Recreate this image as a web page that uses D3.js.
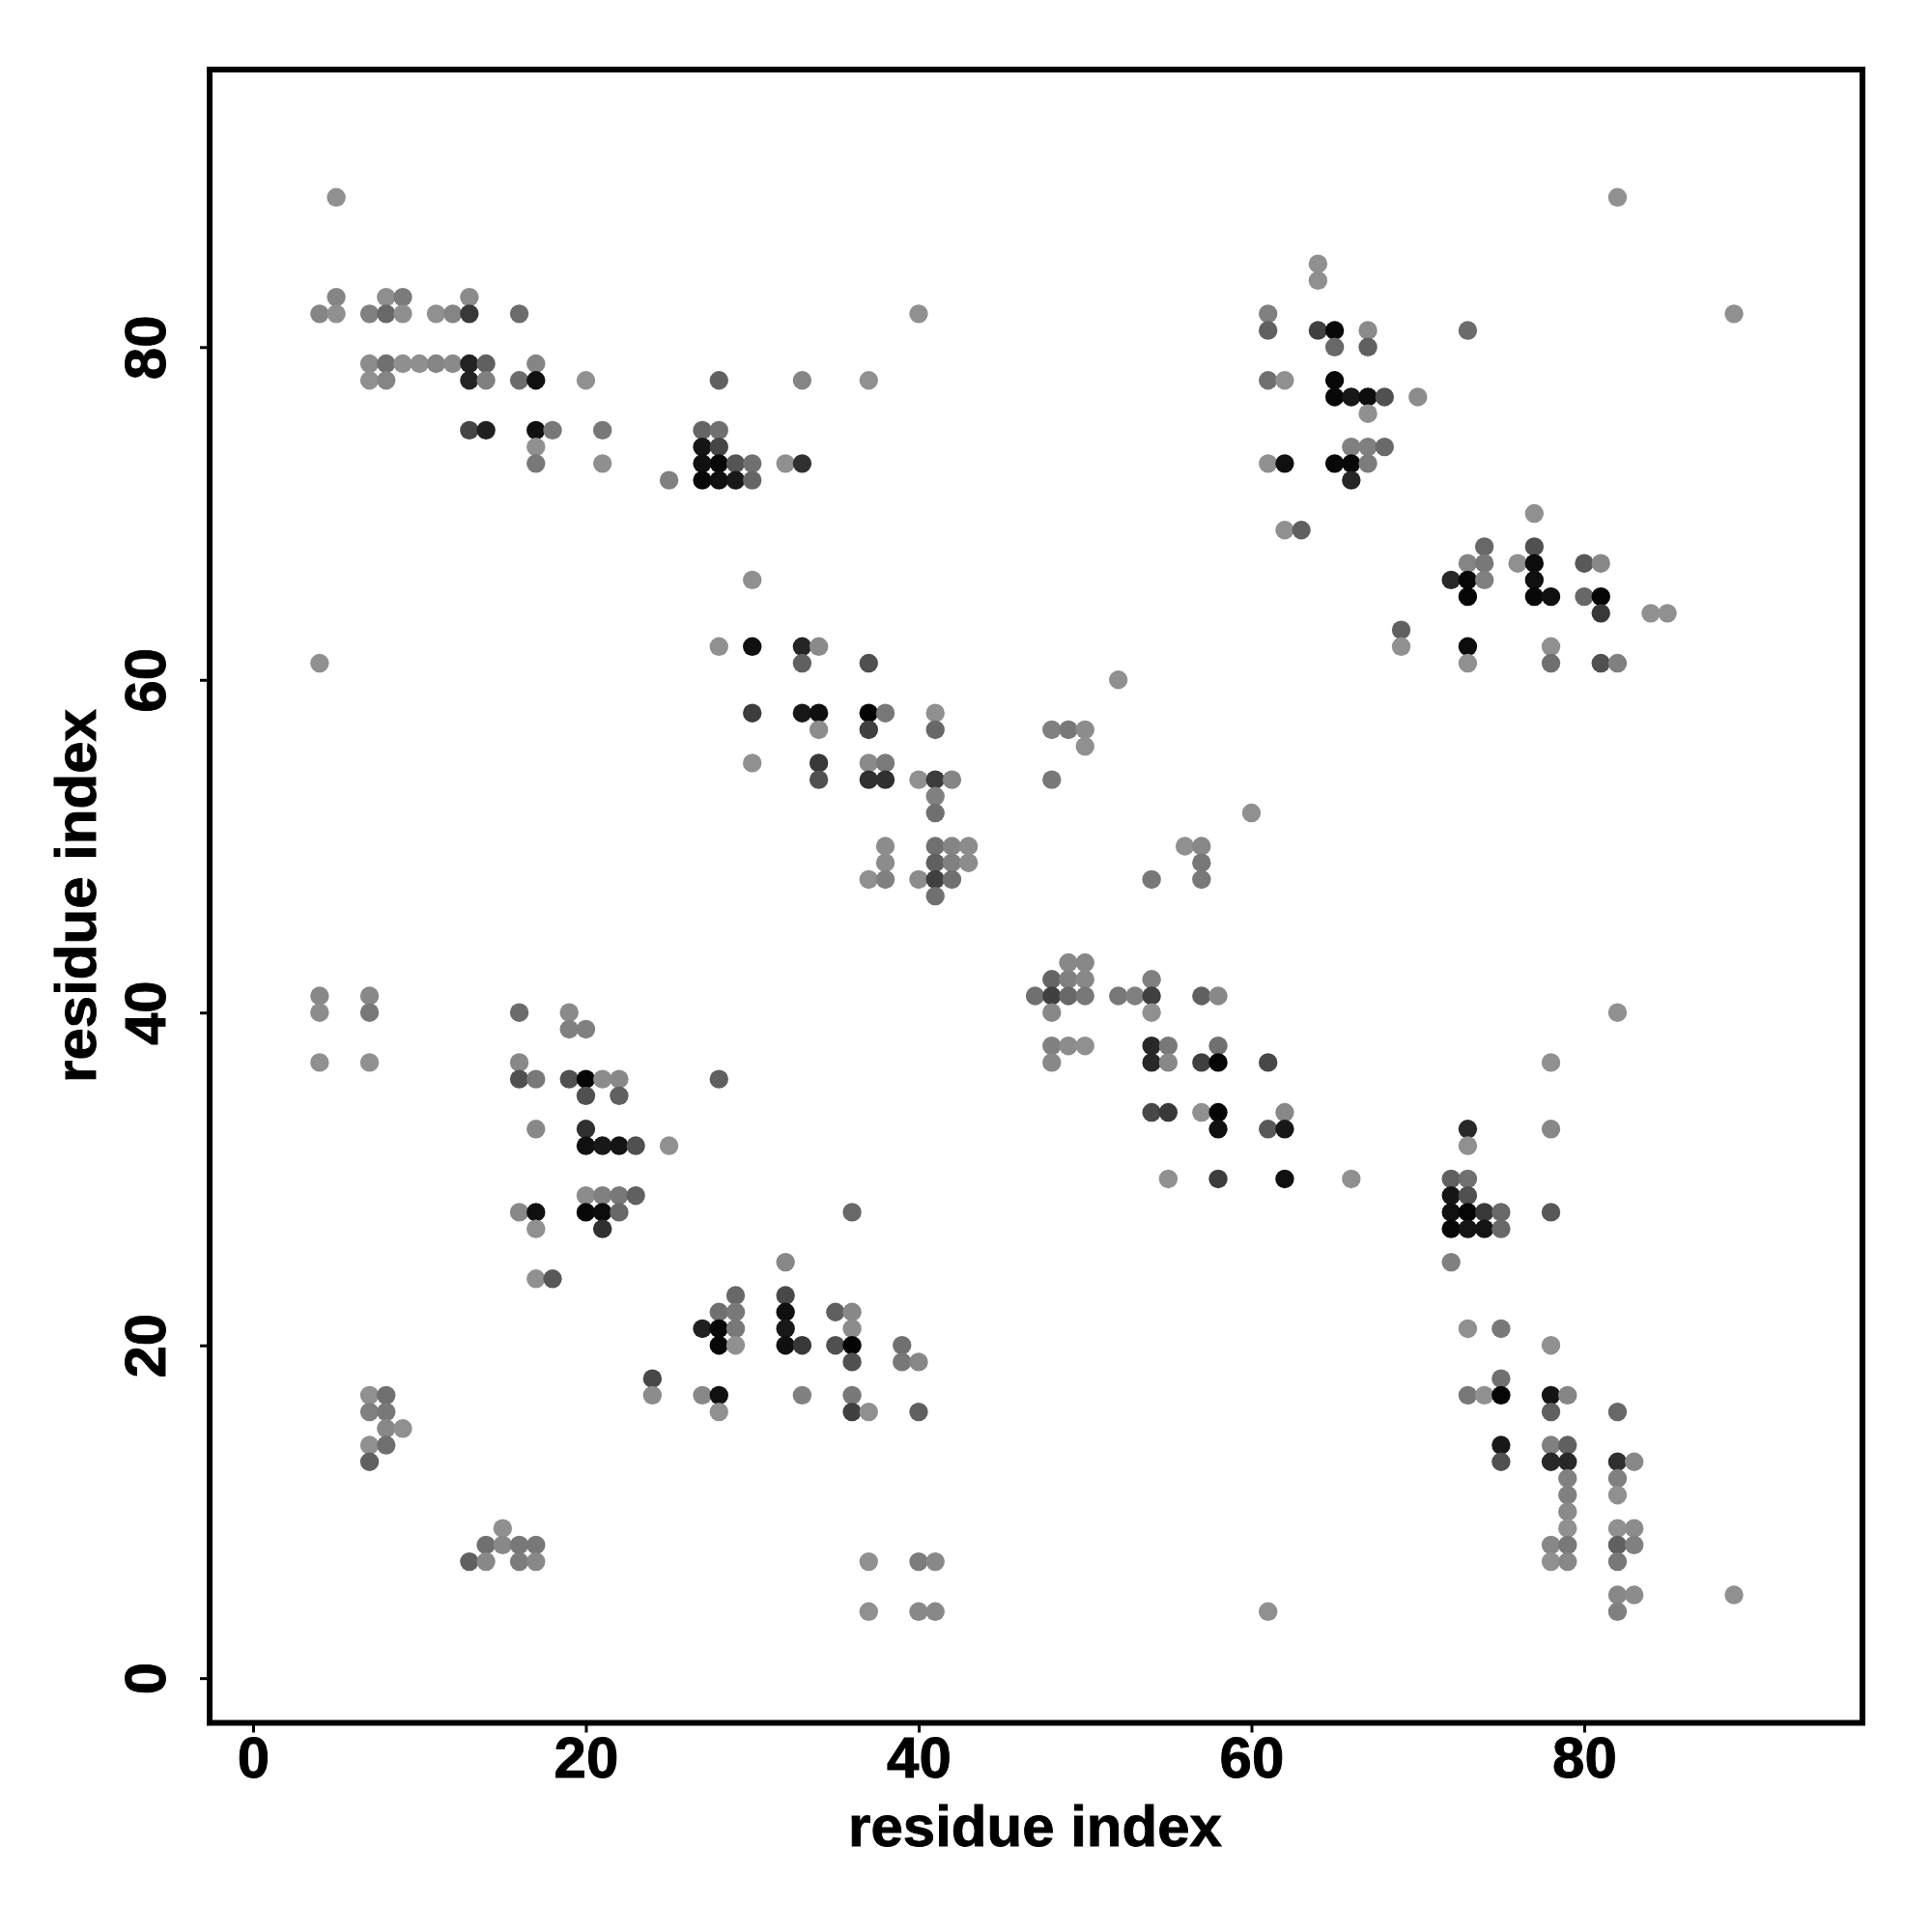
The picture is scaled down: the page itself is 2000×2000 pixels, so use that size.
<!DOCTYPE html>
<html><head><meta charset="utf-8">
<script src="https://cdnjs.cloudflare.com/ajax/libs/d3/7.8.5/d3.min.js"></script>
<style>html,body{margin:0;padding:0;background:#fff}svg{display:block}</style>
</head><body><svg id="c" width="2000" height="2000"></svg>
<script>
// Parallel arrays, one line per row of the picture (same residue-y)
const residueX = [
5,
8,9,13,5,
4,5,7,8,9,11,12,13,16,40,
7,8,9,10,11,12,13,14,17,
7,8,13,14,16,17,20,28,33,37,
13,14,17,18,21,27,28,
17,27,28,
17,21,27,28,29,30,32,33,
25,27,28,29,30,
30,
28,30,33,34,
4,33,37,
30,33,34,37,38,41,
34,37,41,
30,34,37,38,
34,37,38,40,41,42,
41,41,
38,41,42,43,
38,41,42,43,
37,38,40,41,42,
41,
82,64,64,
61,89,
61,64,65,67,73,
65,67,
61,62,65,
65,66,67,68,70,
67,
66,67,68,
61,62,65,66,67,
66,
77,
62,63,
74,77,
73,74,76,77,80,81,
72,73,74,77,
73,77,78,80,81,
81,84,85,
69,
69,73,78,
73,78,81,82,
52,
48,49,50,
50,
48,
60,
56,57,57,54,57,
4,7,
4,7,16,19,
19,20,
4,7,16,
16,17,19,20,21,22,28,
20,22,
17,20,
20,21,22,23,25,
20,21,22,23,
16,17,20,21,22,36,
17,21,
32,
17,18,
29,32,
28,29,32,35,36,
27,28,29,32,36,
28,29,32,33,35,36,39,
36,39,40,
24,
7,8,24,27,28,33,36,
7,8,28,36,37,40,
8,9,
7,8,
7,
15,
14,15,16,17,
13,14,16,17,37,40,41,
37,40,41,
49,50,
48,49,50,54,
47,48,49,50,52,53,54,57,58,
48,54,82,
48,49,50,54,55,58,
48,54,55,57,58,61,78,
54,55,57,58,62,
58,61,62,73,78,
73,
55,58,62,66,72,73,
72,73,
72,73,74,75,78,
72,73,74,75,
72,
73,75,
78,
75,
73,74,75,78,79,
78,82,
75,78,79,
75,78,79,82,83,
79,82,
79,82,
79,
79,82,83,
78,79,82,83,
78,79,82,
82,83,89,
61,82
];
const residueY = [
89,
83,83,83,83,
82,82,82,82,82,82,82,82,82,82,
79,79,79,79,79,79,79,79,79,
78,78,78,78,78,78,78,78,78,78,
75,75,75,75,75,75,75,
74,74,74,
73,73,73,73,73,73,73,73,
72,72,72,72,72,
66,
62,62,62,62,
61,61,61,
58,58,58,58,58,58,
57,57,57,
55,55,55,55,
54,54,54,54,54,54,
53,52,
50,50,50,50,
49,49,49,49,
48,48,48,48,48,
47,
89,85,84,
82,82,
81,81,81,81,81,
80,80,
78,78,78,
77,77,77,77,77,
76,
74,74,74,
73,73,73,73,73,
72,
70,
69,69,
68,68,
67,67,67,67,67,67,
66,66,66,66,
65,65,65,65,65,
64,64,64,
63,
62,62,62,
61,61,61,61,
60,
57,57,57,
56,
54,
52,
50,50,49,48,48,
41,41,
40,40,40,40,
39,39,
37,37,37,
36,36,36,36,36,36,36,
35,35,
33,33,
32,32,32,32,32,
29,29,29,29,
28,28,28,28,28,28,
27,27,
25,
24,24,
23,23,
22,22,22,22,22,
21,21,21,21,21,
20,20,20,20,20,20,20,
19,19,19,
18,
17,17,17,17,17,17,17,
16,16,16,16,16,16,
15,15,
14,14,
13,
9,
8,8,8,8,
7,7,7,7,7,7,7,
4,4,4,
43,43,
42,42,42,42,
41,41,41,41,41,41,41,41,41,
40,40,40,
38,38,38,38,38,38,
37,37,37,37,37,37,37,
34,34,34,34,34,
33,33,33,33,33,
32,
30,30,30,30,30,30,
29,29,
28,28,28,28,28,
27,27,27,27,
25,
21,21,
20,
18,
17,17,17,17,17,
16,16,
14,14,14,
13,13,13,13,13,
12,12,
11,11,
10,
9,9,9,
8,8,8,8,
7,7,7,
5,5,5,
4,4
];
// grey level of each dot (0 = black, 144 = lightest)
const shade = [
0x90,
0x8f,0x7a,0x8c,0x85,
0x85,0x90,0x80,0x68,0x8f,0x90,0x85,0x38,0x6c,0x90,
0x8c,0x70,0x8f,0x8f,0x85,0x8a,0x22,0x60,0x85,
0x90,0x85,0x25,0x80,0x6c,0x10,0x90,0x60,0x85,0x90,
0x45,0x20,0x10,0x78,0x78,0x65,0x70,
0x90,0x15,0x45,
0x78,0x8f,0x10,0x08,0x55,0x70,0x90,0x30,
0x80,0x08,0x10,0x18,0x65,
0x90,
0x90,0x10,0x25,0x8a,
0x90,0x60,0x50,
0x3c,0x18,0x10,0x05,0x78,0x90,
0x8c,0x40,0x68,
0x90,0x38,0x8a,0x7a,
0x50,0x30,0x30,0x90,0x3c,0x85,
0x80,0x70,
0x8c,0x70,0x85,0x8c,
0x8c,0x60,0x80,0x8c,
0x90,0x80,0x8c,0x40,0x70,
0x70,
0x90,0x90,0x90,
0x80,0x90,
0x60,0x40,0x08,0x8a,0x6c,
0x68,0x60,
0x70,0x90,0x08,
0x08,0x18,0x0c,0x50,0x8c,
0x90,
0x80,0x80,0x6a,
0x90,0x10,0x08,0x08,0x7c,
0x25,
0x90,
0x90,0x60,
0x68,0x50,
0x85,0x78,0x90,0x0c,0x58,0x88,
0x28,0x08,0x80,0x10,
0x05,0x08,0x10,0x68,0x05,
0x38,0x90,0x90,
0x60,
0x90,0x0c,0x90,
0x90,0x70,0x50,0x80,
0x90,
0x80,0x78,0x8c,
0x90,
0x78,
0x90,
0x90,0x88,0x78,0x78,0x78,
0x88,0x88,
0x8c,0x78,0x6c,0x8a,
0x80,0x80,
0x90,0x90,0x88,
0x50,0x78,0x50,0x05,0x8c,0x88,0x60,
0x50,0x60,
0x88,0x30,
0x10,0x18,0x14,0x50,0x90,
0x8c,0x80,0x78,0x60,
0x88,0x10,0x08,0x0c,0x68,0x68,
0x90,0x30,
0x88,
0x90,0x58,
0x68,0x48,
0x70,0x78,0x10,0x60,0x88,
0x20,0x08,0x78,0x18,0x8c,
0x08,0x90,0x10,0x38,0x50,0x05,0x70,
0x50,0x78,0x88,
0x48,
0x90,0x70,0x8c,0x88,0x10,0x80,0x78,
0x80,0x78,0x90,0x40,0x90,0x60,
0x88,0x90,
0x90,0x70,
0x60,
0x90,
0x70,0x88,0x78,0x78,
0x60,0x88,0x7c,0x88,0x90,0x7c,0x88,
0x90,0x88,0x88,
0x88,0x88,
0x65,0x80,0x88,0x80,
0x70,0x40,0x68,0x78,0x78,0x80,0x40,0x60,0x88,
0x88,0x90,0x90,
0x80,0x8c,0x90,0x28,0x78,0x70,
0x88,0x28,0x88,0x40,0x05,0x48,0x90,
0x48,0x38,0x90,0x05,0x88,
0x10,0x58,0x18,0x28,0x88,
0x90,
0x90,0x3c,0x10,0x90,0x60,0x70,
0x15,0x50,
0x10,0x05,0x38,0x68,0x58,
0x08,0x14,0x14,0x68,
0x80,
0x90,0x78,
0x90,
0x70,
0x78,0x90,0x05,0x14,0x85,
0x60,0x68,
0x18,0x80,0x60,
0x50,0x28,0x28,0x30,0x88,
0x80,0x80,
0x80,0x90,
0x8a,
0x90,0x90,0x8c,
0x88,0x78,0x60,0x80,
0x90,0x88,0x78,
0x88,0x8c,0x90,
0x90,0x80
];
const xTickValues = [0,20,40,60,80];
const yTickValues = [0,20,40,60,80];
const xTitle = "residue index";
const yTitle = "residue index";

const frame = {l:217, r:1928, t:72, b:1783.5};
const x = d3.scaleLinear().domain([-2.61,96.72]).range([frame.l, frame.r]);
const y = d3.scaleLinear().domain([-2.69,96.68]).range([frame.b, frame.t]);
const svg = d3.select("#c");
const font = "'Liberation Sans', Arial, sans-serif";

svg.append("g").selectAll("circle")
  .data(residueX.map((v,i)=>({x:v,y:residueY[i],g:shade[i]})))
  .join("circle")
  .attr("cx",d=>x(d.x)).attr("cy",d=>y(d.y)).attr("r",9.7)
  .attr("fill",d=>d3.rgb(d.g,d.g,d.g).formatHex());

const ax = svg.append("g").attr("transform",`translate(0,${frame.b})`)
  .call(d3.axisBottom(x).tickValues(xTickValues).tickSize(10).tickPadding(8).tickFormat(d3.format("d")));
const ay = svg.append("g").attr("transform",`translate(${frame.l},0)`)
  .call(d3.axisLeft(y).tickValues(yTickValues).tickSize(10).tickPadding(0).tickFormat(d3.format("d")));
[ax,ay].forEach(a=>{
  a.select(".domain").remove();
  a.selectAll(".tick line").attr("stroke","#000").attr("stroke-width",3);
  a.selectAll("text").attr("font-family",font).attr("font-weight","bold").attr("font-size",60)
    .attr("fill","#000").attr("stroke","#000").attr("stroke-width",0.9);
});
ax.selectAll("text").attr("dy",null).attr("text-anchor","middle").attr("y",56);
ay.selectAll("text").attr("dy",null).attr("x",null).attr("text-anchor","middle")
  .attr("transform","translate(-46,0) rotate(-90)").attr("y",0);

svg.append("rect").attr("x",frame.l).attr("y",frame.t)
  .attr("width",frame.r-frame.l).attr("height",frame.b-frame.t)
  .attr("fill","none").attr("stroke","#000").attr("stroke-width",6);

svg.append("text").attr("x",1071.5).attr("y",1911).attr("text-anchor","middle")
  .attr("font-family",font).attr("font-weight","bold").attr("font-size",60)
  .attr("stroke","#000").attr("stroke-width",0.9).text(xTitle);
svg.append("text").attr("transform","translate(99,927.5) rotate(-90)").attr("text-anchor","middle")
  .attr("font-family",font).attr("font-weight","bold").attr("font-size",60)
  .attr("stroke","#000").attr("stroke-width",0.9).text(yTitle);
</script></body></html>
